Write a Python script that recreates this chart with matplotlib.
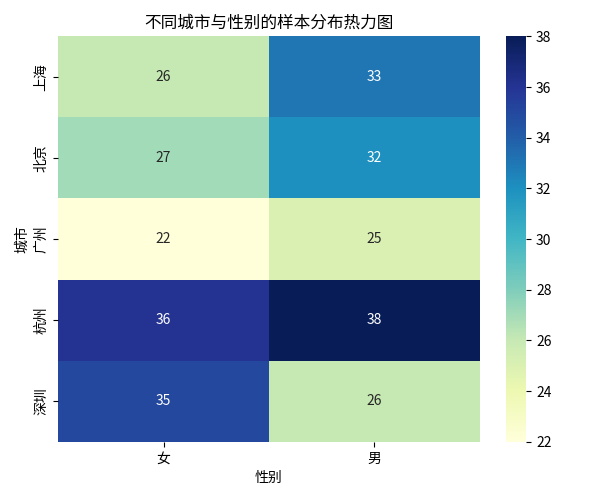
import pandas as pd
import matplotlib
matplotlib.use('Agg')
import matplotlib.pyplot as plt
import seaborn as sns

# 城市 x 性别 样本数
cities = ['上海', '北京', '广州', '杭州', '深圳']
genders = ['女', '男']
female = [26, 27, 22, 36, 35]
male = [33, 32, 25, 38, 26]

df = pd.DataFrame({'女': female, '男': male}, index=cities)
df.index.name = '城市'
df.columns.name = '性别'

plt.rcParams['font.family'] = ['Noto Sans CJK SC', 'DejaVu Sans']
plt.rcParams['axes.unicode_minus'] = False

fig, ax = plt.subplots(figsize=(6, 5), dpi=100)
sns.heatmap(df[genders], annot=True, fmt='d', cmap='YlGnBu', ax=ax)
ax.set_title('不同城市与性别的样本分布热力图')

plt.tight_layout()
plt.savefig('out.png', dpi=100)
